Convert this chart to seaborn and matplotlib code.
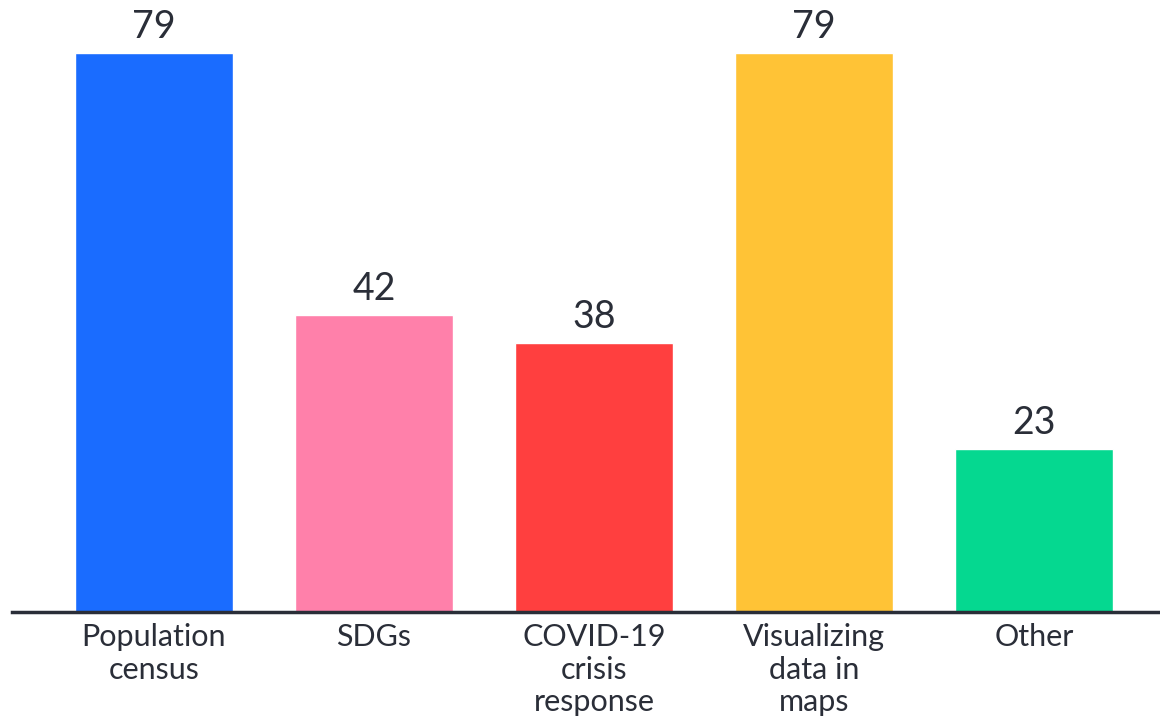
import pandas as pd
import seaborn as sns
import matplotlib.pyplot as plt

categories = ["Population\ncensus", "SDGs", "COVID-19\ncrisis\nresponse",
              "Visualizing\ndata in\nmaps", "Other"]
values = [79, 42, 38, 79, 23]
colors = ["#1a6cff", "#ff80aa", "#ff3f3f", "#ffc336", "#05d890"]

text_color = "#2a2e38"

sns.set_theme(style="white")
plt.rcParams['font.family'] = ['Lato', 'DejaVu Sans']

df = pd.DataFrame({"category": categories, "value": values})

fig = plt.figure(figsize=(11.6, 7.23), dpi=100)
ax = fig.add_axes([12 / 1160, 111 / 723, 1148 / 1160, 612 / 723])

sns.barplot(data=df, x="category", y="value", hue="category",
            palette=colors, width=0.72, saturation=1, legend=False, ax=ax)

for c in ax.containers:
    ax.bar_label(c, fmt="%d", padding=6, fontsize=27, color=text_color)

ax.set_xlim(-0.645, 4.573)
ax.set_ylim(0, 86.5)
ax.set_xlabel("")
ax.set_ylabel("")
ax.set_yticks([])
ax.tick_params(axis="x", length=0, pad=8, labelsize=22, labelcolor=text_color)
for lbl in ax.get_xticklabels():
    lbl.set_linespacing(1.2)
    lbl.set_verticalalignment("top")

for side in ["top", "right", "left"]:
    ax.spines[side].set_visible(False)
ax.spines["bottom"].set_color(text_color)
ax.spines["bottom"].set_linewidth(2.5)

fig.savefig("out.png", dpi=100)
